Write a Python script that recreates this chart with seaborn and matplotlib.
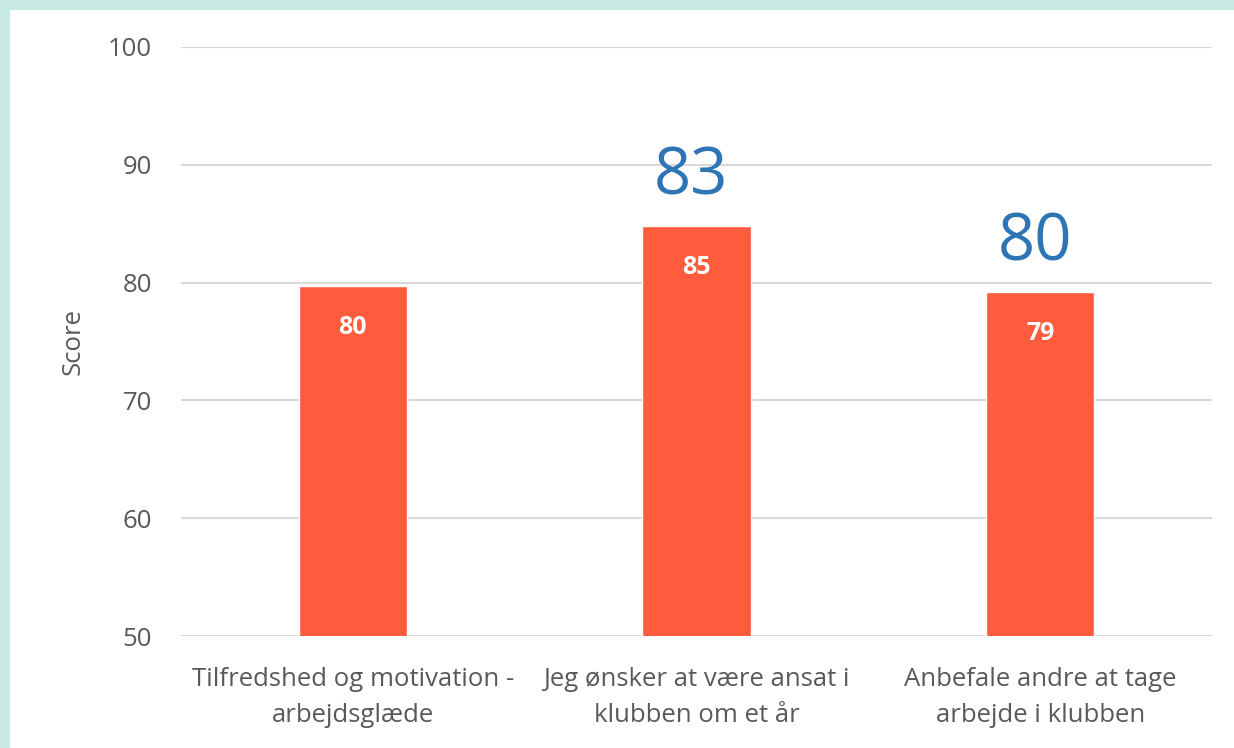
import matplotlib
matplotlib.use("Agg")
import matplotlib.pyplot as plt
import seaborn as sns
import pandas as pd

categories = ["Tilfredshed og motivation -\narbejdsglæde",
              "Jeg ønsker at være ansat i\nklubben om et år",
              "Anbefale andre at tage\narbejde i klubben"]
scores = [79.7, 84.8, 79.2]
score_labels = ["80", "85", "79"]
benchmark_labels = ["", "83", "80"]
yticks = [50, 60, 70, 80, 90, 100]

sns.set_theme(style="white")
plt.rcParams['font.family'] = ['Open Sans', 'DejaVu Sans']

fig = plt.figure(figsize=(12.34, 7.48), dpi=100, facecolor="#C7E9E2")
panel = fig.add_axes([10/1234, 0, 1 - 10/1234, 1 - 10/748])
panel.set_facecolor("white")
panel.set_xticks([]); panel.set_yticks([])
for s in panel.spines.values():
    s.set_visible(False)

ax = fig.add_axes([181/1234, 1 - 636/748, (1212-181)/1234, (636-47)/748])
ax.set_facecolor("none")
df = pd.DataFrame({"cat": categories, "score": scores})
sns.barplot(data=df, x="cat", y="score", color="#FF5B3C", saturation=1,
            width=0.315, ax=ax)
ax.set_ylim(50, 100)
ax.set_yticks(yticks)
ax.yaxis.grid(True, color="#D9D9D9", lw=1.5)
ax.set_axisbelow(True)
for s in ax.spines.values():
    s.set_visible(False)
ax.tick_params(axis="y", length=0, pad=21, labelsize=18.5, labelcolor="#595959")
ax.tick_params(axis="x", length=0, pad=22, labelsize=18.5, labelcolor="#595959")
for t in ax.get_xticklabels():
    t.set_linespacing(1.6)
ax.set_xlabel("")
ax.set_ylabel("Score", fontsize=18.5, color="#595959", labelpad=16)

for i, p in enumerate(ax.patches):
    x = p.get_x() + p.get_width() / 2
    top = p.get_height()
    ax.annotate(score_labels[i], (x, top), xytext=(0, -30), textcoords="offset points",
                ha="center", va="center", color="white", fontsize=18, fontweight="bold")
    if benchmark_labels[i]:
        ax.annotate(benchmark_labels[i], (x, top), xytext=(-4, 23), textcoords="offset points",
                    ha="center", va="baseline", color="#2E75B6", fontsize=47)

fig.savefig("out.png", dpi=100, facecolor=fig.get_facecolor())
